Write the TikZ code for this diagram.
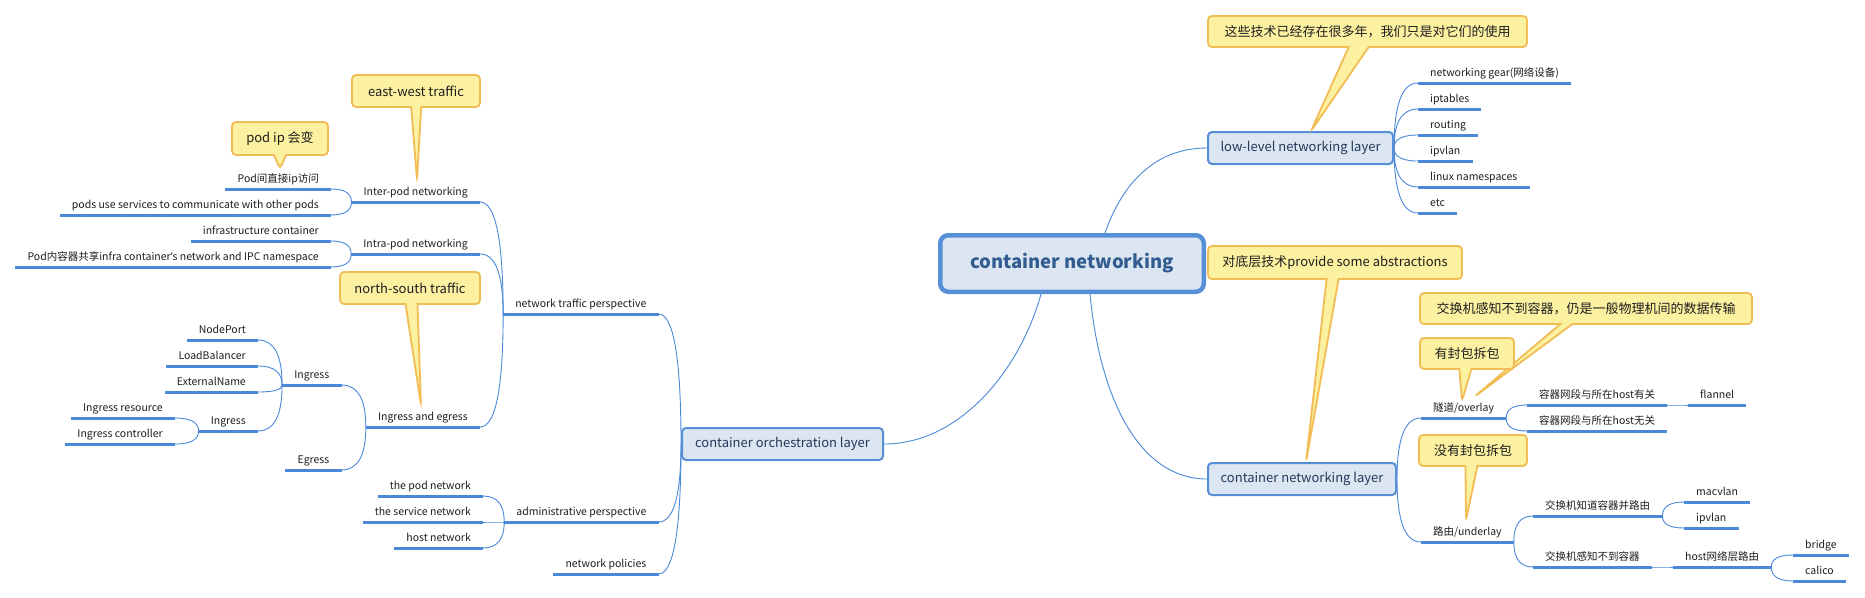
\documentclass[tikz,border=0pt]{standalone}
\usepackage{fontspec}
\setmainfont{Noto Sans CJK SC}
\newfontfamily\latinfont{Noto Sans}
\usetikzlibrary{shapes.callouts,calc,backgrounds}
\definecolor{lineblue}{HTML}{4A88D9}
\definecolor{boxfill}{HTML}{DCE6F2}
\definecolor{boxdraw}{HTML}{5590D6}
\definecolor{boxtext}{HTML}{22395A}
\definecolor{roottext}{HTML}{325C90}
\definecolor{callfill}{HTML}{FCF1A1}
\definecolor{calldraw}{HTML}{F2BD55}
\definecolor{topictext}{HTML}{1E1E1E}
\newcommand\mmconn[2]{\draw[connline] let \p1=(#1), \p2=(#2) in (\p1) .. controls (\x1,{\y1+2/3*(\y2-\y1)}) and ({\x2+2/3*(\x1-\x2)},\y2) .. (\p2);}
\tikzset{
 topic/.style={font=\fontsize{10.5}{12}\selectfont, text=topictext, inner xsep=12pt, inner ysep=3.5pt, text height=8pt, text depth=2.5pt},
 rtopic/.style={topic, anchor=south west},
 ltopic/.style={topic, anchor=south east},
 uline/.style={draw=lineblue, line width=3pt},
 connline/.style={draw=lineblue, line width=0.9pt},
 layerbox/.style={draw=boxdraw, fill=boxfill, line width=2pt, rounded corners=4pt, text=boxtext, font=\fontsize{13}{15}\selectfont, minimum height=32pt, inner sep=0pt},
 rootbox/.style={draw=boxdraw, fill=boxfill, line width=4.5pt, rounded corners=8pt, text=roottext, font=\bfseries\fontsize{18.5}{22}\selectfont, minimum width=263.5pt, minimum height=56.5pt, inner sep=0pt},
 note/.style={rectangle callout, draw=calldraw, fill=callfill, line width=1.8pt, rounded corners=4pt, font=\fontsize{13}{15}\selectfont, text=topictext, minimum height=31pt, inner sep=0pt, callout pointer width=12pt},
}
\begin{document}
\begin{tikzpicture}[x=1pt,y=-1pt]
\useasboundingbox (0,0) rectangle (1865,597);

% main boxes
\node[rootbox] (root) at (1072,263.5) {container networking};
\node[layerbox, minimum width=201pt] (orch) at (782.5,444) {container orchestration layer};
\node[layerbox, minimum width=185pt] (low) at (1300.5,148) {low-level networking layer};
\node[layerbox, minimum width=188pt] (cnl) at (1302,479) {container networking layer};

% low-level children
\node[rtopic] (ng) at (1418,83) {networking gear(网络设备)};
\node[rtopic] (ipt) at (1418,109) {iptables};
\node[rtopic] (rout) at (1418,135) {routing};
\node[rtopic] (ipva) at (1418,161) {ipvlan};
\node[rtopic] (lns) at (1418,187) {linux namespaces};
\node[rtopic] (etc) at (1418,213) {etc};

% container networking layer children
\node[rtopic] (ovl) at (1421,418) {隧道/overlay};
\node[rtopic] (udl) at (1421,542) {路由/underlay};
\node[rtopic] (ova) at (1527,405) {容器网段与所在host有关};
\node[rtopic] (ovb) at (1527,431) {容器网段与所在host无关};
\node[rtopic] (fla) at (1688,405) {flannel};
\node[rtopic] (uda) at (1533,516) {交换机知道容器并路由};
\node[rtopic] (udb) at (1533,567) {交换机感知不到容器};
\node[rtopic] (mac) at (1684,502) {macvlan};
\node[rtopic] (ipvb) at (1684,528) {ipvlan};
\node[rtopic] (hnr) at (1673,567) {host网络层路由};
\node[rtopic] (bri) at (1793,555) {bridge};
\node[rtopic] (cal) at (1793,581) {calico};

% orchestration children
\node[ltopic] (ntp) at (658.5,314) {network traffic perspective};
\node[ltopic] (adm) at (658.5,522) {administrative perspective};
\node[ltopic] (pol) at (658.5,574) {network policies};
\node[ltopic] (inter) at (480,202) {Inter-pod networking};
\node[ltopic] (intra) at (480,254) {Intra-pod networking};
\node[ltopic] (ine) at (480,427) {Ingress and egress};
\node[ltopic] (poda) at (331,189) {Pod间直接ip访问};
\node[ltopic] (podb) at (331,215) {pods use services to communicate with other pods};
\node[ltopic] (infra) at (331,241) {infrastructure container};
\node[ltopic] (share) at (331,267) {Pod内容器共享infra container{\latinfont ’}s network and IPC namespace};
\node[ltopic] (inga) at (341.5,385) {Ingress};
\node[ltopic] (egr) at (341.5,470) {Egress};
\node[ltopic] (np) at (258,340) {NodePort};
\node[ltopic] (lb) at (258,366) {LoadBalancer};
\node[ltopic] (en) at (258,392) {ExternalName};
\node[ltopic] (ingb) at (258,431) {Ingress};
\node[ltopic] (ir) at (175,418) {Ingress resource};
\node[ltopic] (ic) at (175,444) {Ingress controller};
\node[ltopic] (podn) at (483,496) {the pod network};
\node[ltopic] (svcn) at (483,522) {the service network};
\node[ltopic] (hostn) at (483,548) {host network};

% underlines
\foreach \n in {ng,ipt,rout,ipva,lns,etc,ovl,udl,ova,ovb,fla,uda,udb,mac,ipvb,hnr,bri,cal,
  ntp,adm,pol,inter,intra,ine,poda,podb,infra,share,inga,egr,np,lb,en,ingb,ir,ic,podn,svcn,hostn}
  \draw[uline] (\n.south west) -- (\n.south east);

\begin{pgfonlayer}{background}
\fill[white] (0,0) rectangle (1865,597);
% root connections
\draw[connline] ($(root.south)+(-31,0)$) .. controls (1020,370) and (960,444) .. (orch.east);
\draw[connline] ($(root.south)+(18,0)$) .. controls (1100,400) and (1140,479) .. (cnl.west);
\draw[connline] ($(root.north)+(33,0)$) .. controls (1120,190) and (1150,148) .. (low.west);
% right side
\foreach \c in {ng,ipt,rout,ipva,lns,etc} {\mmconn{low.east}{\c.south west}}
\mmconn{cnl.east}{ovl.south west}
\mmconn{cnl.east}{udl.south west}
\mmconn{ovl.south east}{ova.south west}
\mmconn{ovl.south east}{ovb.south west}
\mmconn{ova.south east}{fla.south west}
\mmconn{udl.south east}{uda.south west}
\mmconn{udl.south east}{udb.south west}
\mmconn{uda.south east}{mac.south west}
\mmconn{uda.south east}{ipvb.south west}
\mmconn{udb.south east}{hnr.south west}
\mmconn{hnr.south east}{bri.south west}
\mmconn{hnr.south east}{cal.south west}
% left side
\foreach \c in {ntp,adm,pol} {\mmconn{orch.west}{\c.south east}}
\foreach \c in {inter,intra,ine} {\mmconn{ntp.south west}{\c.south east}}
\foreach \c in {poda,podb} {\mmconn{inter.south west}{\c.south east}}
\foreach \c in {infra,share} {\mmconn{intra.south west}{\c.south east}}
\foreach \c in {inga,egr} {\mmconn{ine.south west}{\c.south east}}
\foreach \c in {np,lb,en,ingb} {\mmconn{inga.south west}{\c.south east}}
\foreach \c in {ir,ic} {\mmconn{ingb.south west}{\c.south east}}
\foreach \c in {podn,svcn,hostn} {\mmconn{adm.south west}{\c.south east}}
\end{pgfonlayer}

% callouts
\coordinate (tA) at (1311,131);
\coordinate (tB) at (1306,462);
\coordinate (tC) at (1474,397);
\coordinate (tD) at (1462,401);
\coordinate (tE) at (1466,520);
\coordinate (tF) at (417,180);
\coordinate (tG) at (280,169);
\coordinate (tH) at (421,405);
\node[note, minimum width=319pt, callout pointer width=20pt, callout absolute pointer={(tA)}] (callA) at (1367.5,31.5) {这些技术已经存在很多年，我们只是对它们的使用};
\node[note, minimum width=254pt, minimum height=33pt, callout absolute pointer={(tB)}] (callB) at (1335,262.5) {对底层技术provide some abstractions};
\node[note, minimum width=332pt, callout absolute pointer={(tC)}] (callC) at (1586,308.5) {交换机感知不到容器，仍是一般物理机间的数据传输};
\node[note, minimum width=94pt, callout absolute pointer={(tD)}] (callD) at (1467,353.5) {有封包拆包};
\node[note, minimum width=108pt, callout absolute pointer={(tE)}] (callE) at (1473,450.5) {没有封包拆包};
\node[note, minimum width=128pt, minimum height=32pt, callout pointer width=10pt, callout absolute pointer={(tF)}] (callF) at (416,91) {east-west traffic};
\node[note, minimum width=96pt, minimum height=33pt, callout absolute pointer={(tG)}] (callG) at (280,138.5) {pod ip 会变};
\node[note, minimum width=140pt, minimum height=32pt, callout absolute pointer={(tH)}] (callH) at (410,288) {north-south traffic};
\end{tikzpicture}
\end{document}
